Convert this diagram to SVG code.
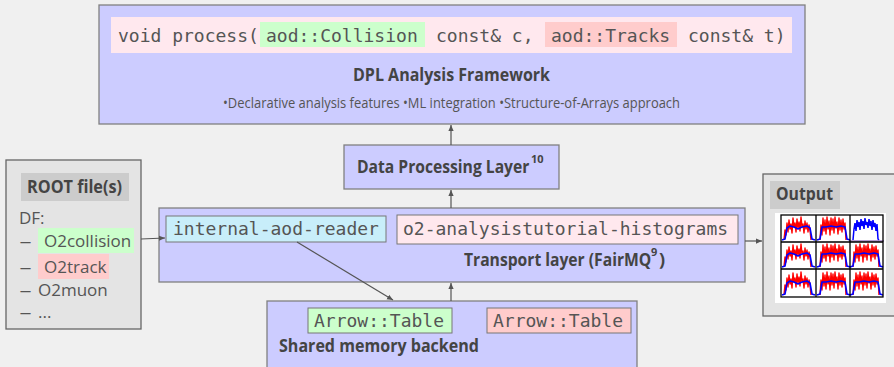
<svg xmlns="http://www.w3.org/2000/svg" width="894" height="367" viewBox="0 0 894 367">
<defs>
<style>
.box{fill:#ccccff;stroke:#808080;stroke-width:1.3}
.gbox{fill:#e4e4e4;stroke:#666;stroke-width:1.3}
.mono{font-family:"DejaVu Sans Mono","Liberation Mono",monospace;font-size:18px;fill:#555}
.bold{font-family:"Open Sans","Noto Sans","Liberation Sans",sans-serif;font-weight:bold;font-size:18px;fill:#444}
.sup{font-family:"Open Sans","Noto Sans","Liberation Sans",sans-serif;font-weight:bold;font-size:11px;fill:#444}
.reg{font-family:"Open Sans","Noto Sans","Liberation Sans",sans-serif;font-size:17px;fill:#555}
.small{font-family:"Open Sans","Noto Sans","Liberation Sans",sans-serif;font-size:14px;fill:#555}
.green{fill:#ccffcc}
.red{fill:#ffcccc}
.pink{fill:#ffe8ee}
.conn{stroke:#555;stroke-width:1.2;fill:none;marker-end:url(#ah)}
.rl{fill:none;stroke:#ff0000;stroke-width:1.4;stroke-linejoin:round}
.bl{fill:none;stroke:#0000ff;stroke-width:1.6;stroke-linejoin:round}
</style>
<marker id="ah" viewBox="0 0 8 8" refX="8" refY="4" markerWidth="6" markerHeight="6" orient="auto" markerUnits="userSpaceOnUse">
<path d="M0,0.5 L8,4 L0,7.5 Z" fill="#555"/>
</marker>
<g id="cellA">
<path class="rl" d="M3,25 L4,15 L5,20 L6,8 L7,17 L8,5 L9,14 L10,9 L11,18 L12,3 L13,12 L14,8 L15,17 L16,4 L17,13 L18,7 L19,16 L20,2 L21,12 L22,9 L23,18 L24,6 L25,14 L26,8 L27,17 L28,10 L29,15 L30,25"/>
<path class="bl" d="M1,25 L4,24 L6,13 L9,11 L13,12 L17,14 L21,12 L26,11 L29,13 L31,24 L34,25"/>
</g>
<g id="cellB">
<path class="rl" d="M4,25 L5,10 L6,20 L7,3 L8,16 L9,5 L10,19 L11,2 L12,14 L13,6 L14,20 L15,3 L16,15 L17,4 L18,18 L19,2 L20,13 L21,7 L22,19 L23,3 L24,15 L25,5 L26,17 L27,4 L28,14 L29,8 L30,25"/>
<path class="bl" d="M1,25 L4,24 L6,12 L10,12 L15,11 L20,12 L25,11 L29,12 L31,24 L34,25"/>
</g>
<g id="cellC">
<path d="M4,25 L5,14 L6,8 L7,16 L8,5 L9,12 L10,7 L11,15 L12,4 L13,11 L14,6 L15,14 L16,3 L17,10 L18,7 L19,13 L20,4 L21,11 L22,6 L23,15 L24,5 L25,12 L26,8 L27,16 L28,9 L29,24 L30,25" fill="none" stroke="#0000ff" stroke-width="1.5"/>
<path d="M0,26 L35,26" stroke="#6a3aa0" stroke-width="1.2"/>
</g>
</defs>
<rect width="894" height="367" fill="#f0f0f0"/>

<g id="dpl-framework">
<rect class="box" x="99" y="5" width="706" height="119"/>
<rect class="pink" x="111" y="17" width="681" height="36"/>
<rect class="green" x="260" y="22" width="165" height="25"/>
<rect class="red" x="545" y="22" width="132" height="25"/>
<text class="mono" x="118" y="42">void process(</text>
<text class="mono" x="266" y="42">aod::Collision</text>
<text class="mono" x="436" y="42">const&amp; c,</text>
<text class="mono" x="551" y="42">aod::Tracks</text>
<text class="mono" x="688" y="42">const&amp; t)</text>
<text class="bold" x="353" y="81" textLength="197" lengthAdjust="spacingAndGlyphs">DPL Analysis Framework</text>
<text class="small" x="223" y="108" textLength="457" lengthAdjust="spacingAndGlyphs">•Declarative analysis features •ML integration •Structure-of-Arrays approach</text>
</g>

<g id="data-processing-layer">
<rect class="box" x="344" y="145" width="215" height="44"/>
<text class="bold" transform="translate(357,173) scale(0.87,1)">Data Processing Layer</text>
<text class="sup" x="531" y="163">10</text>
</g>

<g id="transport-layer">
<rect class="box" x="159" y="208" width="586" height="74"/>
<rect x="166" y="216" width="220" height="26" fill="#c8eefa" stroke="#777" stroke-width="1"/>
<text class="mono" x="173" y="235">internal-aod-reader</text>
<rect class="pink" x="397" y="215" width="341" height="29" stroke="#777" stroke-width="1"/>
<text class="mono" x="403" y="235">o2-analysistutorial-histograms</text>
<text class="bold" transform="translate(464,266) scale(0.87,1)">Transport layer (FairMQ</text>
<text class="sup" x="651" y="256">9</text>
<text class="bold" x="659" y="266">)</text>
</g>

<g id="shared-memory">
<rect class="box" x="267" y="301" width="370" height="70"/>
<rect class="green" x="308" y="308" width="144" height="25" stroke="#777" stroke-width="1"/>
<text class="mono" x="314" y="327">Arrow::Table</text>
<rect class="red" x="487" y="308" width="144" height="25" stroke="#777" stroke-width="1"/>
<text class="mono" x="493" y="327">Arrow::Table</text>
<text class="bold" x="279" y="352" textLength="200" lengthAdjust="spacingAndGlyphs">Shared memory backend</text>
</g>

<g id="root-files">
<rect class="gbox" x="6" y="160" width="135" height="169"/>
<rect x="21" y="173" width="108" height="28" fill="#cccccc"/>
<text class="bold" x="27" y="193" textLength="95" lengthAdjust="spacingAndGlyphs">ROOT file(s)</text>
<text class="reg" x="19" y="224">DF:</text>
<rect class="green" x="38" y="228" width="96" height="25"/>
<rect class="red" x="38" y="254" width="71" height="25"/>
<text class="reg" x="20" y="247" textLength="11" lengthAdjust="spacingAndGlyphs">—</text>
<text class="reg" x="44" y="247">O2collision</text>
<text class="reg" x="20" y="273" textLength="11" lengthAdjust="spacingAndGlyphs">—</text>
<text class="reg" x="44" y="273">O2track</text>
<text class="reg" x="20" y="296" textLength="11" lengthAdjust="spacingAndGlyphs">—</text>
<text class="reg" x="38" y="296">O2muon</text>
<text class="reg" x="20" y="318" textLength="11" lengthAdjust="spacingAndGlyphs">—</text>
<text class="reg" x="38" y="318">...</text>
</g>

<g id="output">
<rect class="gbox" x="763" y="174" width="140" height="142"/>
<rect x="770" y="181" width="70" height="28" fill="#cccccc"/>
<text class="bold" x="776" y="200" textLength="57" lengthAdjust="spacingAndGlyphs">Output</text>
<rect x="775" y="213" width="111" height="90" fill="#ffffff"/>
<g>
<use href="#cellA" x="781" y="215"/>
<use href="#cellB" x="816" y="215"/>
<use href="#cellC" x="849" y="215"/>
<use href="#cellA" x="781" y="242"/>
<use href="#cellB" x="816" y="242"/>
<use href="#cellB" x="849" y="242"/>
<use href="#cellA" x="781" y="270"/>
<use href="#cellB" x="816" y="270"/>
<use href="#cellB" x="849" y="270"/>
</g>
<g fill="none" stroke="#000" stroke-width="1.3">
<rect x="781" y="215" width="102" height="82"/>
<path d="M816,215 V297 M850,215 V297 M781,242 H883 M781,269 H883"/>
</g>
</g>

<g id="connectors">
<path class="conn" d="M451,145 L451,125"/>
<path class="conn" d="M451,208 L451,190"/>
<path class="conn" d="M451,301 L451,283"/>
<path class="conn" d="M297,242 L393,300"/>
<path class="conn" d="M141,239 L165,238"/>
<path class="conn" d="M745,241 L762,241"/>
</g>
</svg>
